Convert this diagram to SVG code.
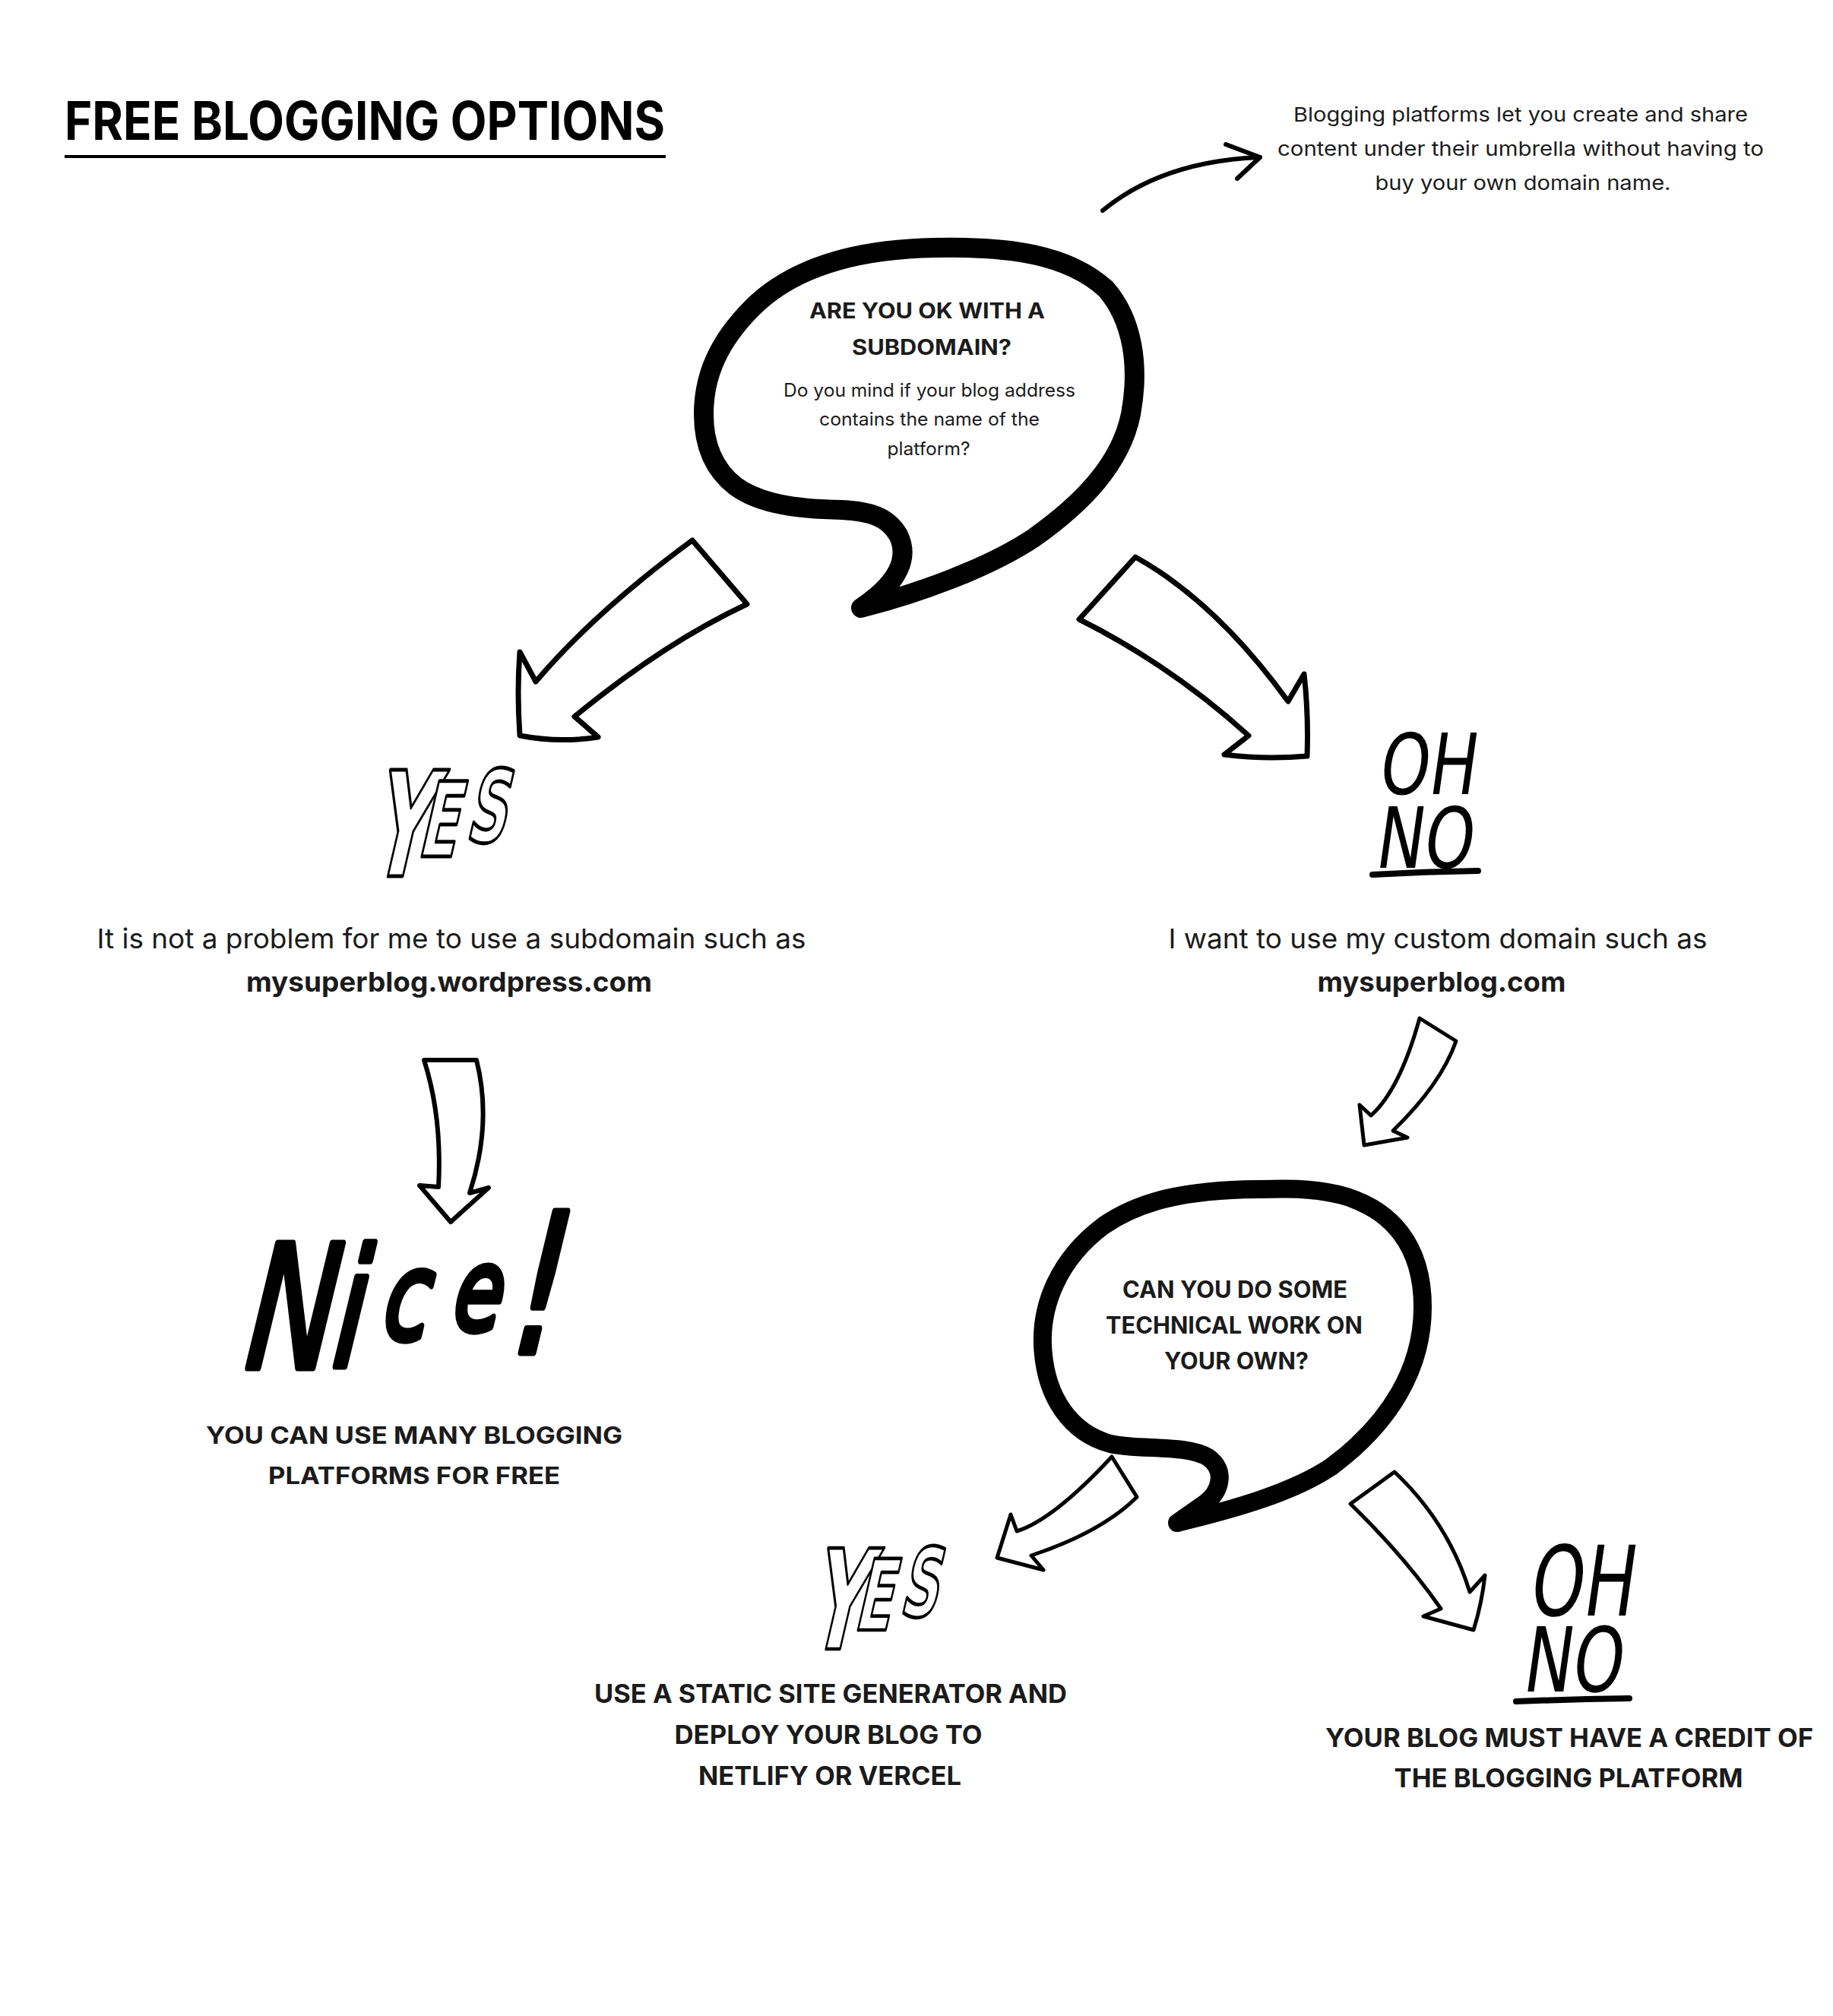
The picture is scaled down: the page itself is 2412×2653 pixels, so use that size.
<svg xmlns="http://www.w3.org/2000/svg" width="2412" height="2653" viewBox="0 0 2412 2653">
<style>
.t{font-family:Inter,"Liberation Sans",sans-serif;fill:#1b1b1b}
.b{font-weight:700}
.r{font-weight:400}
.c{text-anchor:middle}
.arrow{fill:#fff;stroke:#000;stroke-linejoin:round;stroke-linecap:round}
.bubble{fill:none;stroke:#000;stroke-linejoin:round;stroke-linecap:round}
.yes{font-family:"DejaVu Sans",sans-serif;font-weight:700;fill:#fff;stroke:#000;stroke-width:5;stroke-linejoin:round}
.ohno{font-family:"DejaVu Sans",sans-serif;fill:#000}
.nice{font-family:"DejaVu Sans",sans-serif;font-style:italic;fill:#000;stroke:#000;stroke-width:9;stroke-linejoin:round;stroke-linecap:round}
</style>
<rect width="2412" height="2653" fill="#fff"/>

<g id="title">
<text class="t b" x="85" y="184" font-size="70" style="fill:#000" textLength="790" lengthAdjust="spacingAndGlyphs">FREE BLOGGING OPTIONS</text>
<line x1="85" y1="206" x2="876" y2="206" stroke="#000" stroke-width="4"/>
</g>

<g id="note">
<text class="t r c" x="2001" y="160" font-size="26" textLength="598" lengthAdjust="spacingAndGlyphs">Blogging platforms let you create and share</text>
<text class="t r c" x="2001" y="205" font-size="26" textLength="640" lengthAdjust="spacingAndGlyphs">content under their umbrella without having to</text>
<text class="t r c" x="2004" y="250" font-size="26" textLength="389" lengthAdjust="spacingAndGlyphs">buy your own domain name.</text>
</g>

<g id="q1">
<path class="bubble" stroke-width="26" d="M1230,326 C1120,328 1040,355 990,405 C945,450 926,495 926,545 C926,590 942,620 968,640 C998,662 1045,670 1108,671 C1145,673 1168,680 1182,704 C1196,732 1185,765 1133,800 C1205,782 1300,748 1360,708 C1425,662 1475,610 1488,545 C1500,480 1490,420 1455,380 C1405,335 1330,324 1230,326 Z"/>
<text class="t b c" x="1220" y="419" font-size="28" textLength="310" lengthAdjust="spacingAndGlyphs">ARE YOU OK WITH A</text>
<text class="t b c" x="1226" y="467" font-size="28" textLength="210" lengthAdjust="spacingAndGlyphs">SUBDOMAIN?</text>
<text class="t r c" x="1223" y="522" font-size="24" textLength="384" lengthAdjust="spacingAndGlyphs">Do you mind if your blog address</text>
<text class="t r c" x="1223" y="560" font-size="24" textLength="290" lengthAdjust="spacingAndGlyphs">contains the name of the</text>
<text class="t r c" x="1222" y="599" font-size="24" textLength="109" lengthAdjust="spacingAndGlyphs">platform?</text>
</g>

<g id="yes1">
<text class="yes" transform="translate(482,1153) skewX(-13) scale(0.55,1)"><tspan font-size="192">Y</tspan><tspan font-size="136" dy="-26" dx="-30">E</tspan><tspan font-size="132" dy="-19" dx="14">S</tspan></text>
</g>

<g id="ohno1">
<text class="ohno" transform="translate(1812,1045) skewX(-8) scale(0.75,1)" font-size="111">OH</text>
<text class="ohno" transform="translate(1808,1142) skewX(-8) scale(0.75,1)" font-size="111">NO</text>
<path d="M1806,1151 Q1875,1147 1945,1146" fill="none" stroke="#000" stroke-width="8" stroke-linecap="round"/>
</g>

<g id="yes-text">
<text class="t r c" x="594" y="1248" font-size="36" textLength="933" lengthAdjust="spacingAndGlyphs">It is not a problem for me to use a subdomain such as</text>
<text class="t b c" x="591" y="1305" font-size="36" textLength="534" lengthAdjust="spacingAndGlyphs">mysuperblog.wordpress.com</text>
</g>

<g id="no-text">
<text class="t r c" x="1892" y="1248" font-size="36" textLength="709" lengthAdjust="spacingAndGlyphs">I want to use my custom domain such as</text>
<text class="t b c" x="1897" y="1305" font-size="36" textLength="327" lengthAdjust="spacingAndGlyphs">mysuperblog.com</text>
</g>

<g id="nice">
<text class="nice" transform="translate(0,1800) skewX(-6) scale(0.7,1)"><tspan x="459" y="0" font-size="225">N</tspan><tspan x="622" y="-2" font-size="215">i</tspan><tspan x="712" y="-38" font-size="160">c</tspan><tspan x="842" y="-50" font-size="150">e</tspan><tspan x="955" y="-20" font-size="255">!</tspan></text>
</g>

<g id="nice-text">
<text class="t b c" x="545" y="1900" font-size="31" textLength="548" lengthAdjust="spacingAndGlyphs">YOU CAN USE MANY BLOGGING</text>
<text class="t b c" x="545" y="1953" font-size="31" textLength="384" lengthAdjust="spacingAndGlyphs">PLATFORMS FOR FREE</text>
</g>

<g id="q2">
<path class="bubble" stroke-width="24" d="M1655,1565 C1560,1566 1500,1580 1452,1613 C1392,1658 1370,1718 1372,1770 C1375,1840 1410,1886 1461,1900 C1500,1909 1560,1900 1590,1918 C1614,1935 1606,1963 1586,1978 L1549,2004 C1620,1987 1700,1965 1752,1930 C1830,1872 1872,1800 1872,1720 C1872,1640 1832,1590 1762,1572 C1722,1563 1690,1564 1655,1565 Z"/>
<text class="t b c" x="1625" y="1708" font-size="31" textLength="296" lengthAdjust="spacingAndGlyphs">CAN YOU DO SOME</text>
<text class="t b c" x="1624" y="1755" font-size="31" textLength="338" lengthAdjust="spacingAndGlyphs">TECHNICAL WORK ON</text>
<text class="t b c" x="1627" y="1802" font-size="31" textLength="190" lengthAdjust="spacingAndGlyphs">YOUR OWN?</text>
</g>

<g id="yes2">
<text class="yes" transform="translate(1060,2170) skewX(-13) scale(0.52,0.95)"><tspan font-size="192">Y</tspan><tspan font-size="136" dy="-26" dx="-30">E</tspan><tspan font-size="132" dy="-19" dx="14">S</tspan></text>
</g>

<g id="ohno2">
<text class="ohno" transform="translate(2010,2126) skewX(-8) scale(0.7,1)" font-size="128">OH</text>
<text class="ohno" transform="translate(2002,2226) skewX(-8) scale(0.72,1)" font-size="118">NO</text>
<path d="M1995,2239 Q2070,2236 2144,2235" fill="none" stroke="#000" stroke-width="8" stroke-linecap="round"/>
</g>

<g id="static-text">
<text class="t b c" x="1093" y="2241" font-size="34" textLength="622" lengthAdjust="spacingAndGlyphs">USE A STATIC SITE GENERATOR AND</text>
<text class="t b c" x="1090" y="2295" font-size="34" textLength="405" lengthAdjust="spacingAndGlyphs">DEPLOY YOUR BLOG TO</text>
<text class="t b c" x="1092" y="2349" font-size="34" textLength="346" lengthAdjust="spacingAndGlyphs">NETLIFY OR VERCEL</text>
</g>

<g id="credit-text">
<text class="t b c" x="2065" y="2299" font-size="34" textLength="642" lengthAdjust="spacingAndGlyphs">YOUR BLOG MUST HAVE A CREDIT OF</text>
<text class="t b c" x="2064" y="2352" font-size="34" textLength="459" lengthAdjust="spacingAndGlyphs">THE BLOGGING PLATFORM</text>
</g>

<g id="connectors">
<path d="M1451,277 Q1530,212 1658,207" fill="none" stroke="#000" stroke-width="6" stroke-linecap="round"/>
<path d="M1613,190 L1658,207 L1628,235" fill="none" stroke="#000" stroke-width="6" stroke-linecap="round" stroke-linejoin="round"/>
<path class="arrow" stroke-width="7" d="M911,711 L983,795 Q874,846 756,943 L787,970 Q735,978 684,968 Q680,910 684,858 L705,897 Q782,806 911,711 Z"/>
<path class="arrow" stroke-width="7" d="M1494,733 L1420,815 Q1540,875 1643,968 L1611,993 Q1665,1000 1720,995 Q1722,940 1716,887 L1695,923 Q1600,792 1494,733 Z"/>
<path class="arrow" stroke-width="6" d="M558,1395 L627,1395 Q648,1478 618,1570 L643,1563 L593,1608 L552,1560 L577,1562 Q582,1470 558,1395 Z"/>
<path class="arrow" stroke-width="5" d="M1868,1340 L1916,1370 Q1896,1427 1833,1488 L1852,1497 L1795,1507 L1789,1454 L1804,1468 Q1842,1434 1868,1340 Z"/>
<path class="arrow" stroke-width="5" d="M1463,1917 L1496,1970 Q1450,2016 1357,2047 L1373,2066 L1312,2050 L1330,1993 L1338,2015 Q1386,2000 1463,1917 Z"/>
<path class="arrow" stroke-width="5" d="M1835,1937 L1777,1979 Q1848,2048 1896,2117 L1873,2127 L1939,2145 Q1950,2110 1954,2073 L1934,2095 Q1906,2004 1835,1937 Z"/>
</g>
</svg>
